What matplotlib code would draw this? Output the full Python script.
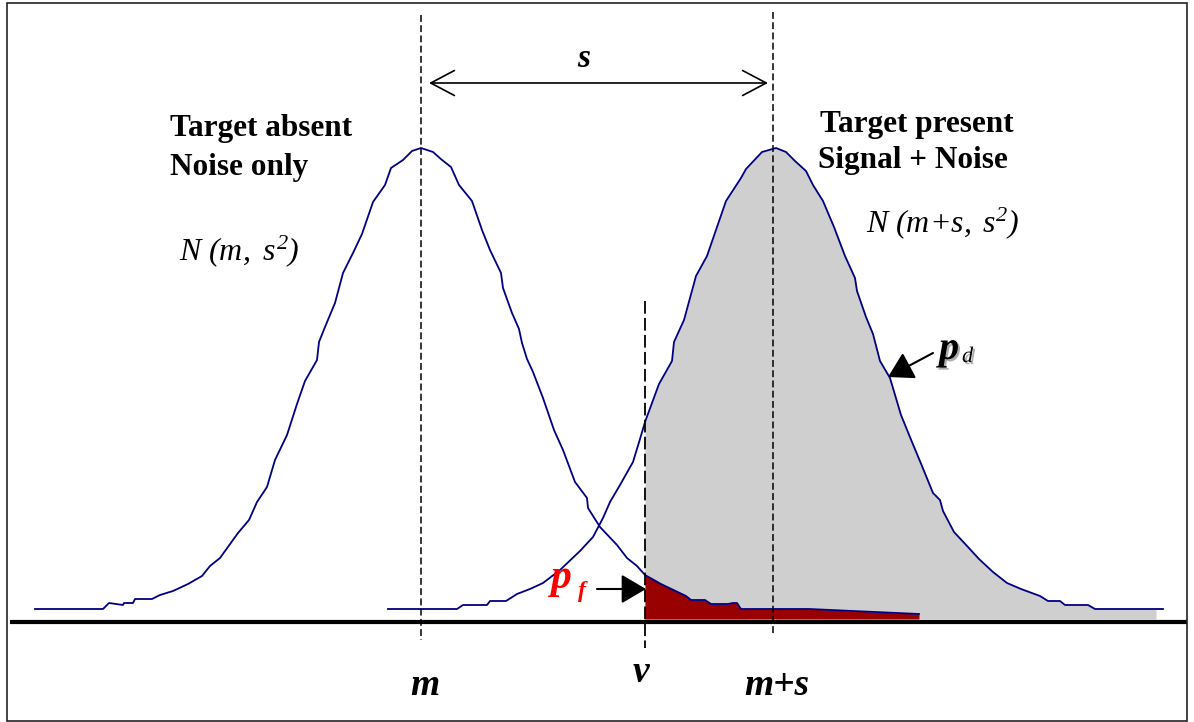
import numpy as np
import matplotlib
matplotlib.use("Agg")
import matplotlib.pyplot as plt
import matplotlib.patheffects as pe
from matplotlib.patches import Rectangle

# curve traces: x position, height above the baseline
noise_x = [35, 103, 109, 123, 124, 133, 135, 152, 160, 173, 188, 202, 210, 220,
           238, 249, 257, 267, 275, 287, 297, 305, 317, 319, 325, 335, 343, 353,
           362, 373, 385, 391, 403, 412, 421, 433, 442, 451, 459, 472, 482, 490,
           501, 503, 512, 519, 522, 527, 533, 543, 554, 563, 575, 587, 588, 600,
           617, 627, 637, 645, 661, 686, 691, 705, 711, 728, 733, 737, 741, 809, 919]
noise_h = [0, 0, 6, 4, 6, 6, 10, 10, 14, 18, 25, 33, 43, 51,
           76, 89, 107, 122, 149, 174, 205, 228, 249, 267, 282, 306, 336, 356,
           375, 407, 424, 441, 449, 458, 461, 457, 449, 442, 424, 408, 379, 359,
           336, 321, 296, 280, 266, 250, 237, 211, 179, 159, 127, 111, 101, 82,
           64, 51, 43, 34, 25, 13, 9, 9, 5, 5, 6, 6, 0, 0, -5]

signal_x = [388, 457, 463, 487, 490, 506, 517, 530, 543, 560, 580, 593, 603, 610,
            620, 633, 640, 645, 659, 672, 674, 684, 696, 707, 726, 741, 746, 762,
            776, 786, 795, 806, 813, 823, 834, 845, 855, 857, 866, 873, 880, 890,
            901, 912, 922, 933, 940, 943, 954, 968, 979, 993, 1007, 1021, 1040,
            1048, 1060, 1065, 1088, 1095, 1163]
signal_h = [0, 0, 4, 4, 8, 8, 15, 20, 26, 39, 58, 72, 91, 107,
            124, 147, 170, 187, 225, 248, 267, 289, 333, 353, 408, 431, 440, 457,
            461, 457, 448, 438, 424, 408, 382, 353, 331, 318, 292, 275, 248, 231,
            194, 167, 143, 116, 109, 98, 77, 62, 50, 37, 26, 20, 13,
            8, 8, 4, 4, 0, 0]

m_pos, ms_pos, v_pos = 421, 773, 645
red_end, gray_end = 919, 1156

serif = "Liberation Serif"
navy = "#000080"

plt.rcParams["mathtext.fontset"] = "custom"
plt.rcParams["mathtext.it"] = "Liberation Serif:italic"
plt.rcParams["mathtext.rm"] = "Liberation Serif:italic"

fig = plt.figure(figsize=(11.94, 7.22), dpi=100)
ax = fig.add_axes([0, 0, 1, 1])
ax.set_xlim(0, 1194)
ax.set_ylim(-113, 609)
ax.set_axis_off()

nx = np.array(noise_x, float)
nh = np.array(noise_h, float)
sx = np.array(signal_x, float)
sh = np.array(signal_h, float)

# shaded areas
gmask = (sx >= v_pos) & (sx <= gray_end)
gx = np.r_[sx[gmask], gray_end]
gh = np.r_[sh[gmask], np.interp(gray_end, sx, sh)]
ax.fill_between(gx, -10, gh, color="#cfcfcf", lw=0, zorder=1)

rmask = nx >= v_pos
ax.fill_between(nx[rmask], -10, nh[rmask], color="#990000", lw=0, zorder=2)

ax.plot(nx, nh, color=navy, lw=1.3, zorder=3)
ax.plot(sx, sh, color=navy, lw=1.3, zorder=3)

# axis line and frame
ax.plot([10, 1187], [-12.7, -12.7], color="k", lw=3.0, zorder=4, solid_capstyle="butt")
ax.add_patch(Rectangle((7, -112), 1180, 718, fill=False, ec="#222222", lw=1.2, zorder=5))

# dashed markers
ax.plot([m_pos, m_pos], [594, -31], color="k", lw=1.1, ls=(0, (4.5, 2.2)), zorder=6)
ax.plot([ms_pos, ms_pos], [597, -26], color="k", lw=1.1, ls=(0, (4.5, 2.2)), zorder=6)
ax.plot([v_pos, v_pos], [308, -39], color="k", lw=1.3, ls=(0, (7, 2.4)), zorder=6)

# separation arrow
ax.annotate("", xy=(ms_pos - 5, 526), xytext=(m_pos + 8, 526),
            arrowprops=dict(arrowstyle="<->,head_length=0.85,head_width=0.45",
                            mutation_scale=20, lw=1.2, color="k",
                            shrinkA=0, shrinkB=0))
ax.text(584, 542, "s", family=serif, style="italic", weight="bold",
        fontsize=24, ha="center", va="baseline")

# headings
bold = dict(family=serif, weight="bold", fontsize=22.5, va="baseline", ha="left")
ax.text(170, 473, "Target absent", **bold)
ax.text(170, 433.5, "Noise only", **bold)
ax.text(820, 477, "Target present", **bold)
ax.text(818, 441, "Signal + Noise", **bold)

ital = dict(fontsize=23, va="baseline", ha="left")
ax.text(179, 349, r"$N\ (m,\ s^{2})$", **ital)
ax.text(866, 377, r"$N\ (m{+}s,\;s^{2})$", **ital)

# p_d label with shadow
shadow = [pe.SimplePatchShadow(offset=(1.5, -1.5), shadow_rgbFace="#888888", alpha=0.7),
          pe.Normal()]
ax.text(939, 250, "p", family=serif, style="italic", weight="bold", fontsize=29,
        va="baseline", path_effects=shadow)
ax.text(962, 247, "d", family=serif, style="italic", fontsize=16,
        va="baseline", path_effects=shadow)
ax.annotate("", xy=(888, 232), xytext=(933, 256),
            arrowprops=dict(arrowstyle="-|>,head_length=0.85,head_width=0.5",
                            mutation_scale=18, lw=1.5, color="k",
                            shrinkA=0, shrinkB=0))

# p_f label
ax.text(551, 21, "p", family=serif, style="italic", weight="bold", fontsize=30,
        color="#ff0000", va="baseline")
ax.text(578, 12, "f", family=serif, style="italic", weight="bold", fontsize=17,
        color="#ff0000", va="baseline")
ax.annotate("", xy=(v_pos + 1, 20), xytext=(597, 20),
            arrowprops=dict(arrowstyle="-|>,head_length=0.85,head_width=0.5",
                            mutation_scale=18, lw=1.5, color="k",
                            shrinkA=0, shrinkB=0), zorder=7)

# bottom labels
lab = dict(family=serif, style="italic", weight="bold", fontsize=27,
           ha="center", va="baseline")
ax.text(m_pos + 4, -86, "m", **lab)
ax.text(v_pos - 4, -73, "v", **lab)
ax.text(ms_pos + 4, -86, "m+s", **lab)

fig.savefig("out.png", dpi=100)
